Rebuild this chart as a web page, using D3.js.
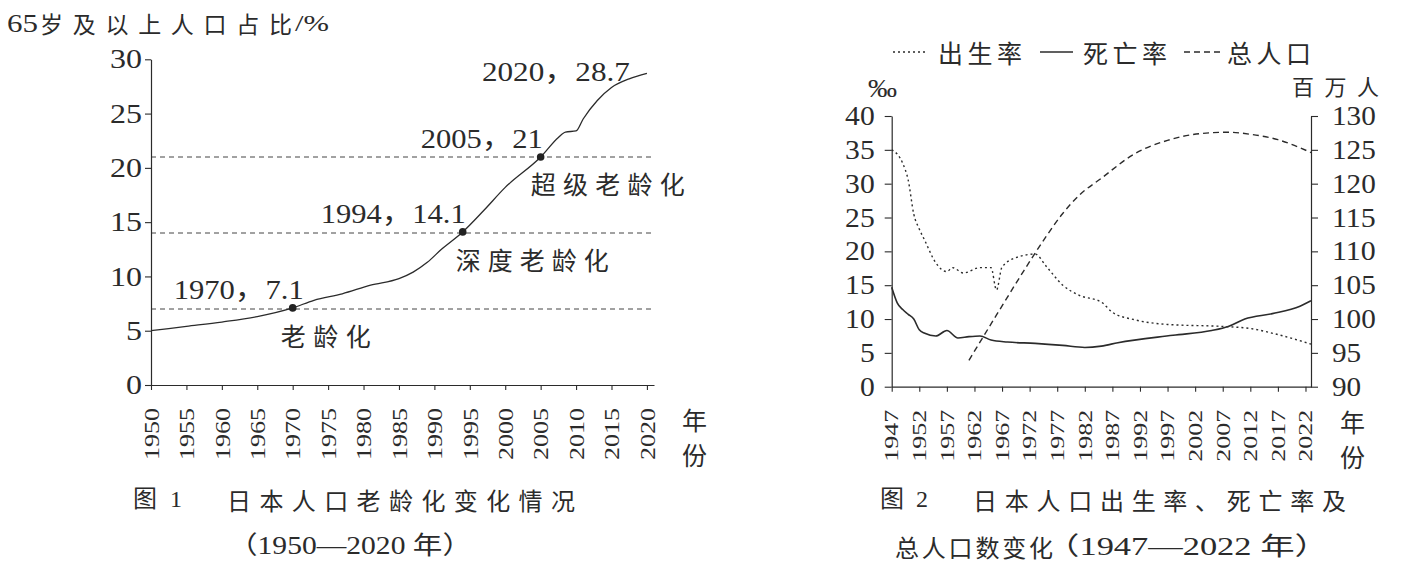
<!DOCTYPE html>
<html>
<head>
<meta charset="utf-8">
<script src="https://cdn.jsdelivr.net/npm/d3@7"></script>
<style>
  html, body { margin: 0; padding: 0; background: #fff; }
  svg { display: block; }
</style>
</head>
<body>
<svg id="chart" width="1427" height="575"></svg>
<script>
// ---- Figure 1: share of population aged 65+ (%) ----
const agingYears = [1950, 1955, 1960, 1965, 1970, 1973, 1977, 1981, 1985, 1987, 1989, 1991, 1994, 1997, 2000, 2005, 2007.5, 2008.5, 2010, 2011, 2013, 2015, 2017.5, 2020];
const agingShare = [5.0, 5.4, 5.8, 6.3, 7.1, 7.8, 8.4, 9.2, 9.8, 10.4, 11.3, 12.5, 14.1, 16.1, 18.2, 21.0, 22.8, 23.3, 23.4, 24.5, 26.2, 27.4, 28.2, 28.7];
const milestoneYears = [1970, 1994, 2005, 2020];
const milestoneShare = [7.1, 14.1, 21, 28.7];
const stageThresholds = [7, 14, 21];
const stageNames = ["老龄化", "深度老龄化", "超级老龄化"];
const fig1YearTicks = [1950, 1955, 1960, 1965, 1970, 1975, 1980, 1985, 1990, 1995, 2000, 2005, 2010, 2015, 2020];
const fig1ShareTicks = [0, 5, 10, 15, 20, 25, 30];

// ---- Figure 2: birth rate, death rate (‰) and total population (million) ----
const birthYears = [1947, 1949, 1950, 1951, 1952, 1953, 1955, 1957, 1958, 1960, 1963, 1965, 1966, 1967, 1970, 1973, 1975, 1978, 1981, 1985, 1987, 1991, 1997, 2007, 2012, 2017, 2023];
const birthRate = [35.0, 33.0, 30.5, 25.5, 23.3, 21.6, 18.3, 17.0, 17.6, 16.8, 17.6, 17.6, 14.3, 17.7, 19.2, 19.6, 17.8, 15.0, 13.5, 12.5, 11.0, 9.9, 9.2, 8.9, 8.6, 7.7, 6.3];
const deathYears = [1947, 1948, 1949, 1950, 1951, 1952, 1953, 1955, 1957, 1959, 1961, 1963, 1965, 1968, 1973, 1978, 1982, 1985, 1988, 1998, 2005, 2008, 2011, 2016, 2021, 2023];
const deathRate = [14.7, 12.4, 11.4, 10.7, 10.0, 8.4, 7.9, 7.5, 8.3, 7.2, 7.4, 7.5, 6.9, 6.6, 6.4, 6.1, 5.8, 6.0, 6.5, 7.6, 8.3, 8.9, 10.0, 10.8, 11.9, 12.7];
const popYears = [1961, 1966, 1971, 1975, 1978, 1981, 1985, 1991, 1997, 2003, 2008, 2012, 2017, 2023];
const popMillions = [93.9, 100.6, 107.2, 112.2, 115.6, 118.3, 120.8, 124.4, 126.4, 127.4, 127.6, 127.3, 126.5, 124.6];
const fig2YearTicks = [1947, 1952, 1957, 1962, 1967, 1972, 1977, 1982, 1987, 1992, 1997, 2002, 2007, 2012, 2017, 2022];
const fig2RateTicks = [0, 5, 10, 15, 20, 25, 30, 35, 40];
const fig2PopTicks = [90, 95, 100, 105, 110, 115, 120, 125, 130];
const legendNames = ["出生率", "死亡率", "总人口"];

const NUM = "'Liberation Serif', 'Times New Roman', 'Noto Sans CJK SC', serif";
const CJK = "'Noto Sans CJK SC', 'Noto Sans CJK JP', sans-serif";
const INK = "#2b2b2b";

const svg = d3.select("#chart");

function txt(parent, s, x, y, o = {}) {
  const t = parent.append("text")
    .attr("x", x).attr("y", y)
    .attr("font-family", o.family || NUM)
    .attr("font-size", o.size || 24)
    .attr("fill", INK)
    .attr("text-anchor", o.anchor || "start")
    .text(s);
  if (o.base) t.attr("dominant-baseline", o.base);
  if (o.len) t.attr("textLength", o.len).attr("lengthAdjust", o.adjust || "spacingAndGlyphs");
  return t;
}

function styleAxis(g) {
  g.select(".domain").attr("stroke", INK).attr("stroke-width", 1.2);
  g.selectAll(".tick line").attr("stroke", INK).attr("stroke-width", 1.1);
}

function rotateYearLabels(g, size) {
  g.selectAll(".tick text")
    .attr("transform", "rotate(-90)")
    .attr("x", -23).attr("y", 0).attr("dy", "0.33em")
    .attr("text-anchor", "end")
    .attr("font-family", NUM).attr("font-size", size).attr("fill", INK)
    .attr("textLength", 52).attr("lengthAdjust", "spacingAndGlyphs");
}

function valueLabels(g, size, digitW) {
  g.selectAll(".tick text")
    .attr("font-family", NUM).attr("font-size", size).attr("fill", INK)
    .each(function (d) {
      d3.select(this).attr("textLength", String(d).length * digitW).attr("lengthAdjust", "spacingAndGlyphs");
    });
}

// =================== Figure 1 ===================
const x1 = d3.scaleLinear().domain([1950, 2021]).range([151, 654]);
const y1 = d3.scaleLinear().domain([0, 30]).range([385, 59.3]);
const f1 = svg.append("g");

// axis title, split so the digits stay together
txt(f1, "65", 7, 23, { size: 26, base: "central", len: 31 });
txt(f1, "岁及以上人口占比", 40, 23, { family: CJK, size: 23, base: "central", len: 252, adjust: "spacing" });
txt(f1, "/%", 295, 23, { size: 24, base: "central", len: 34 });

f1.append("g")
  .attr("class", "thresholds")
  .selectAll("line")
  .data(stageThresholds)
  .join("line")
  .attr("x1", x1(1950)).attr("x2", x1(2021) + 1)
  .attr("y1", d => y1(d)).attr("y2", d => y1(d))
  .attr("stroke", "#444").attr("stroke-width", 1).attr("stroke-dasharray", "5,4");

const xAx1 = f1.append("g")
  .attr("transform", `translate(0,${y1(0)})`)
  .call(d3.axisBottom(x1).tickValues(fig1YearTicks).tickSize(5).tickSizeOuter(0).tickFormat(d3.format("d")));
styleAxis(xAx1);
rotateYearLabels(xAx1, 22);

const yAx1 = f1.append("g")
  .attr("transform", `translate(${x1(1950)},0)`)
  .call(d3.axisLeft(y1).tickValues(fig1ShareTicks).tickSize(6).tickPadding(3).tickSizeOuter(0));
styleAxis(yAx1);
valueLabels(yAx1, 27, 16);

const agingData = agingYears.map((yr, i) => [yr, agingShare[i]]);
f1.append("path")
  .datum(agingData)
  .attr("fill", "none").attr("stroke", INK).attr("stroke-width", 1.3)
  .attr("d", d3.line().x(d => x1(d[0])).y(d => y1(d[1])).curve(d3.curveMonotoneX));

// dots for the three stage milestones
f1.selectAll("circle.milestone")
  .data(milestoneYears.slice(0, 3))
  .join("circle")
  .attr("class", "milestone")
  .attr("cx", d => x1(d))
  .attr("cy", (d, i) => y1(milestoneShare[i]))
  .attr("r", 3.8).attr("fill", "#222");

// label placement relative to the point (end anchor)
const milestoneDx = [11, 3, 2, -17];
const milestoneDy = [-9, -9, -9, 8];
const milestoneLen = [130, 145, 122, 148];
milestoneYears.forEach((yr, i) => {
  txt(f1, `${yr}，${milestoneShare[i]}`, x1(yr) + milestoneDx[i], y1(milestoneShare[i]) + milestoneDy[i],
    { size: 28, anchor: "end", len: milestoneLen[i] });
});

const stageDx = [-12, -7, -10];
const stageLen = [90, 153, 154];
stageNames.forEach((name, i) => {
  txt(f1, name, x1(milestoneYears[i]) + stageDx[i], y1(stageThresholds[i]) + 26,
    { family: CJK, size: 25, base: "central", len: stageLen[i], adjust: "spacing" });
});

txt(f1, "年", 682, 419, { family: CJK, size: 25, base: "central" });
txt(f1, "份", 682, 454, { family: CJK, size: 25, base: "central" });

txt(f1, "图 1", 133, 499, { size: 24, base: "central", len: 49, adjust: "spacing" });
txt(f1, "日本人口老龄化变化情况", 227, 499, { family: CJK, size: 24, base: "central", len: 348, adjust: "spacing" });
txt(f1, "（1950—2020 年）", 228, 545, { size: 25, base: "central", len: 244 });

// =================== Figure 2 ===================
const x2 = d3.scaleLinear().domain([1947, 2023]).range([891.7, 1311]);
const yL = d3.scaleLinear().domain([0, 40]).range([386.7, 116]);
const yR = d3.scaleLinear().domain([90, 130]).range([386.7, 116]);
const f2 = svg.append("g");

const xAx2 = f2.append("g")
  .attr("transform", `translate(0,${yL(0)})`)
  .call(d3.axisBottom(x2).tickValues(fig2YearTicks).tickSize(5).tickSizeOuter(0).tickFormat(d3.format("d")));
styleAxis(xAx2);
rotateYearLabels(xAx2, 19);

const yAxL = f2.append("g")
  .attr("transform", `translate(${x2(1947)},0)`)
  .call(d3.axisLeft(yL).tickValues(fig2RateTicks).tickSize(7).tickPadding(10).tickSizeOuter(0));
styleAxis(yAxL);
valueLabels(yAxL, 27, 14.8);

const yAxR = f2.append("g")
  .attr("transform", `translate(${x2(2023)},0)`)
  .call(d3.axisRight(yR).tickValues(fig2PopTicks).tickSize(7).tickPadding(14).tickSizeOuter(0));
styleAxis(yAxR);
valueLabels(yAxR, 27, 14.6);

const lineL = d3.line().x(d => x2(d[0])).y(d => yL(d[1])).curve(d3.curveMonotoneX);
const lineR = d3.line().x(d => x2(d[0])).y(d => yR(d[1])).curve(d3.curveMonotoneX);

const series = [
  { data: birthYears.map((yr, i) => [yr, birthRate[i]]), gen: lineL, dash: "2,3", w: 1.4 },
  { data: deathYears.map((yr, i) => [yr, deathRate[i]]), gen: lineL, dash: null, w: 1.6 },
  { data: popYears.map((yr, i) => [yr, popMillions[i]]), gen: lineR, dash: "6,4", w: 1.4 },
];
series.forEach(s => {
  f2.append("path")
    .datum(s.data)
    .attr("fill", "none").attr("stroke", INK).attr("stroke-width", s.w)
    .attr("stroke-dasharray", s.dash)
    .attr("d", s.gen);
});

// legend
const legendLineX = [893, 1040, 1184];
const legendLineW = [34, 33, 38];
const legendTextX = [938, 1083, 1227];
legendNames.forEach((name, i) => {
  f2.append("line")
    .attr("x1", legendLineX[i]).attr("x2", legendLineX[i] + legendLineW[i])
    .attr("y1", 52).attr("y2", 52)
    .attr("stroke", INK).attr("stroke-width", series[i].w)
    .attr("stroke-dasharray", series[i].dash);
  txt(f2, name, legendTextX[i], 52, { family: CJK, size: 25, base: "central", len: 84, adjust: "spacing" });
});

txt(f2, "‰", 868, 88, { size: 26, base: "central", len: 29 });
txt(f2, "百万人", 1292, 85, { family: CJK, size: 22, base: "central", len: 87, adjust: "spacing" });

txt(f2, "年", 1340, 421, { family: CJK, size: 25, base: "central" });
txt(f2, "份", 1340, 456, { family: CJK, size: 25, base: "central" });

txt(f2, "图 2", 880, 499, { size: 24, base: "central", len: 48, adjust: "spacing" });
txt(f2, "日本人口出生率、死亡率及", 973, 499, { family: CJK, size: 24, base: "central", len: 373, adjust: "spacing" });
txt(f2, "总人口数变化", 895, 546, { family: CJK, size: 24, base: "central", len: 158, adjust: "spacing" });
txt(f2, "（1947—2022 年）", 1045, 546, { size: 25, base: "central", len: 284 });
</script>
</body>
</html>
